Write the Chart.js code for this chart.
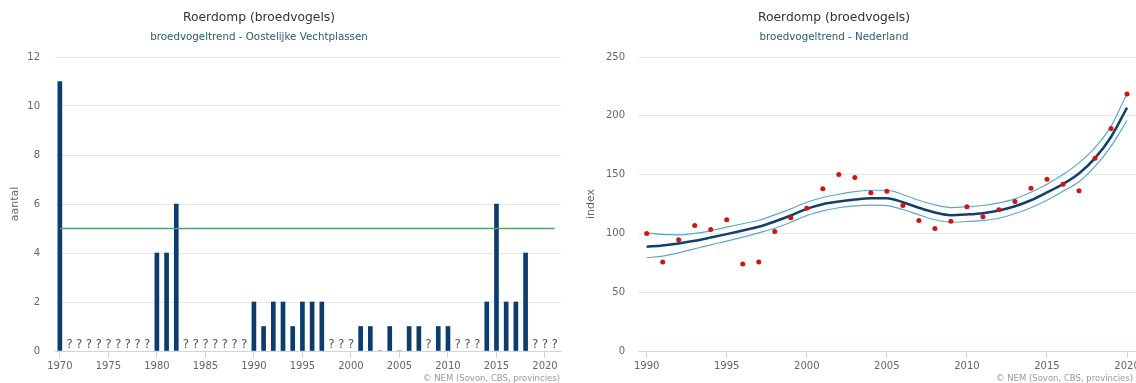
<!DOCTYPE html>
<html>
<head>
<meta charset="utf-8">
<script src="https://cdn.jsdelivr.net/npm/chart.js@4/dist/chart.umd.min.js"></script>
<style>
  html, body { margin: 0; padding: 0; background: #fff; }
  #wrap { position: relative; width: 1136px; height: 383px; overflow: hidden; }
  canvas { position: absolute; top: 0; }
  #c1 { left: 0; }
  #c2 { left: 568px; }
</style>
</head>
<body>
<div id="wrap">
  <canvas id="c1" width="568" height="383"></canvas>
  <canvas id="c2" width="568" height="383"></canvas>
</div>
<script>
// ---------- data: left chart (Oostelijke Vechtplassen, aantal) ----------
const years = [1970,1971,1972,1973,1974,1975,1976,1977,1978,1979,
               1980,1981,1982,1983,1984,1985,1986,1987,1988,1989,
               1990,1991,1992,1993,1994,1995,1996,1997,1998,1999,
               2000,2001,2002,2003,2004,2005,2006,2007,2008,2009,
               2010,2011,2012,2013,2014,2015,2016,2017,2018,2019,
               2020,2021];
// null = not counted ("?")
const counts = [11,null,null,null,null,null,null,null,null,null,
                4,4,6,null,null,null,null,null,null,null,
                2,1,2,2,1,2,2,2,null,null,
                null,1,1,0,1,0,1,1,null,1,
                1,null,null,null,2,6,2,2,4,null,
                null,null];
const refLevel = 5;
const refFrom = 1970;
const refTo = 2021;
const leftXTicks = [1970,1975,1980,1985,1990,1995,2000,2005,2010,2015,2020];

// ---------- data: right chart (Nederland, index) ----------
const idxYears = [1990,1991,1992,1993,1994,1995,1996,1997,1998,1999,
                  2000,2001,2002,2003,2004,2005,2006,2007,2008,2009,
                  2010,2011,2012,2013,2014,2015,2016,2017,2018,2019,2020];
const indexValues = [100,75.6,94.6,106.7,103.3,111.6,73.9,75.6,101.6,113.3,
                     121.4,137.9,150.1,147.5,134.5,135.9,123.7,111,104.2,110.3,
                     122.6,114.1,120.1,127.1,138.4,146.1,141.8,136.2,163.9,189.1,218.6];
const trend = [88.6,89.8,91.5,93.7,96.5,99.4,102.5,105.6,110.1,115.2,
               120.9,124.8,127.1,128.8,129.9,129.9,126.5,121.8,117.8,115.5,
               116.1,117.2,119.5,123.1,128.2,134.8,142,151,164,182,207];
const upper = [100.5,99.1,98.8,100,102.2,105.3,108.2,111.2,115.8,120.9,
               126.5,130.5,133.3,135.5,136.7,136.7,133.1,128.2,124.3,122,
               122.6,123.7,126,129.4,135,141.8,150,160,173,191,219];
const lower = [79.3,80.7,83.5,86.9,90.3,93.4,96.8,100.5,104.4,109.5,
               115.2,119.2,121.8,123.4,124,123.7,120.3,115.8,111.6,109.5,
               110.1,111,112.9,116.9,121.8,128.2,135.9,144,157,174,196];
const rightXTicks = [1990,1995,2000,2005,2010,2015,2020];

const mainTitle = 'Roerdomp (broedvogels)';
const leftSubtitle = 'broedvogeltrend - Oostelijke Vechtplassen';
const rightSubtitle = 'broedvogeltrend - Nederland';
const creditText = '\u00A9 NEM (Sovon, CBS, provincies)';

// ---------- shared style ----------
const FONT = "'DejaVu Sans', sans-serif";
Chart.defaults.font.family = FONT;
Chart.defaults.color = '#666';

function headerPlugin(sub, cx, creditRight) {
  return {
    id: 'header',
    afterDraw(chart) {
      const ctx = chart.ctx;
      ctx.save();
      ctx.textAlign = 'center';
      ctx.textBaseline = 'middle';
      ctx.font = "12.3px " + FONT;
      ctx.fillStyle = '#333';
      ctx.fillText(mainTitle, cx, 18);
      ctx.font = "10.3px " + FONT;
      ctx.fillStyle = '#2b5b6c';
      ctx.fillText(sub, cx, 37);
      ctx.font = "8.5px " + FONT;
      ctx.fillStyle = '#999';
      ctx.textAlign = 'right';
      ctx.textBaseline = 'alphabetic';
      ctx.fillText(creditText, creditRight, 381);
      ctx.restore();
    }
  };
}

const questionPlugin = {
  id: 'questions',
  afterDatasetsDraw(chart) {
    const xs = chart.scales.x, ys = chart.scales.y;
    const ctx = chart.ctx;
    ctx.save();
    ctx.font = "12px " + FONT;
    ctx.fillStyle = '#555';
    ctx.textAlign = 'center';
    ctx.textBaseline = 'alphabetic';
    const y0 = ys.getPixelForValue(0);
    years.forEach((yr, i) => {
      if (counts[i] === null) ctx.fillText('?', xs.getPixelForValue(yr), y0 - 3);
    });
    ctx.restore();
  }
};

const basePlugins = { legend: { display: false }, tooltip: { enabled: false },
                      title: { display: false }, subtitle: { display: false } };

function xScale(min, max, ticksArr) {
  return {
    type: 'linear', min: min, max: max, offset: false,
    afterBuildTicks: s => { s.ticks = ticksArr.map(v => ({ value: v })); },
    afterFit: s => { s.height = 32; s.paddingLeft = 0; s.paddingRight = 0; },
    ticks: { color: '#666', font: { size: 10 }, padding: 2, maxRotation: 0, autoSkip: false,
             callback: v => String(v) },
    grid: { offset: false, drawOnChartArea: false, drawTicks: true, tickLength: 7, color: '#ccd6eb' },
    border: { display: true, color: '#ccd6eb', width: 1 }
  };
}

// ---------- left chart ----------
new Chart(document.getElementById('c1'), {
  data: {
    datasets: [
      { type: 'bar', data: years.map((y, i) => ({ x: y, y: counts[i] })),
        backgroundColor: '#0b3c6c', barThickness: 4, order: 1 },
      { type: 'line', data: [{ x: refFrom, y: refLevel }, { x: refTo, y: refLevel }],
        borderColor: '#5a9d72', borderWidth: 1.5, pointRadius: 0, order: 0 }
    ]
  },
  options: {
    responsive: false, animation: false, devicePixelRatio: 1,
    layout: { autoPadding: false, padding: { left: 0, right: 7, bottom: 0, top: 57 } },
    plugins: basePlugins,
    scales: {
      x: xScale(1969.5, 2021.65, leftXTicks),
      y: {
        min: 0, max: 12,
        afterFit: s => { s.width = 55; },
        ticks: { stepSize: 2, color: '#666', font: { size: 10 }, padding: 15 },
        grid: { color: '#e6e6e6', drawTicks: false },
        border: { display: false },
        title: { display: true, text: 'aantal', color: '#666', font: { size: 11 }, padding: { top: 9, bottom: 0 } }
      }
    }
  },
  plugins: [questionPlugin, headerPlugin(leftSubtitle, 259, 560)]
});

// ---------- right chart ----------
const pts = arr => idxYears.map((y, i) => ({ x: y, y: arr[i] }));
new Chart(document.getElementById('c2'), {
  type: 'line',
  data: {
    datasets: [
      { data: pts(indexValues), showLine: false, pointRadius: 2.5, pointBackgroundColor: '#cc1515',
        pointBorderWidth: 0, borderColor: '#cc1515', order: 0 },
      { data: pts(trend), borderColor: '#133f6b', borderWidth: 2.5, pointRadius: 0,
        cubicInterpolationMode: 'monotone', order: 1 },
      { data: pts(upper), borderColor: '#5fa8c4', borderWidth: 1.2, pointRadius: 0,
        cubicInterpolationMode: 'monotone', order: 2 },
      { data: pts(lower), borderColor: '#5fa8c4', borderWidth: 1.2, pointRadius: 0,
        cubicInterpolationMode: 'monotone', order: 2 }
    ]
  },
  options: {
    responsive: false, animation: false, devicePixelRatio: 1,
    layout: { autoPadding: false, padding: { left: 0, right: 0, bottom: 0, top: 57 } },
    plugins: basePlugins,
    scales: {
      x: xScale(1989.46, 2020.56, rightXTicks),
      y: {
        min: 0, max: 250,
        afterFit: s => { s.width = 70; },
        ticks: { stepSize: 50, color: '#666', font: { size: 10 }, padding: 13 },
        grid: { color: '#e6e6e6', drawTicks: false },
        border: { display: false },
        title: { display: true, text: 'index', color: '#666', font: { size: 11 }, padding: { top: 17, bottom: 0 } }
      }
    }
  },
  plugins: [headerPlugin(rightSubtitle, 266, 565)]
});
</script>
</body>
</html>
